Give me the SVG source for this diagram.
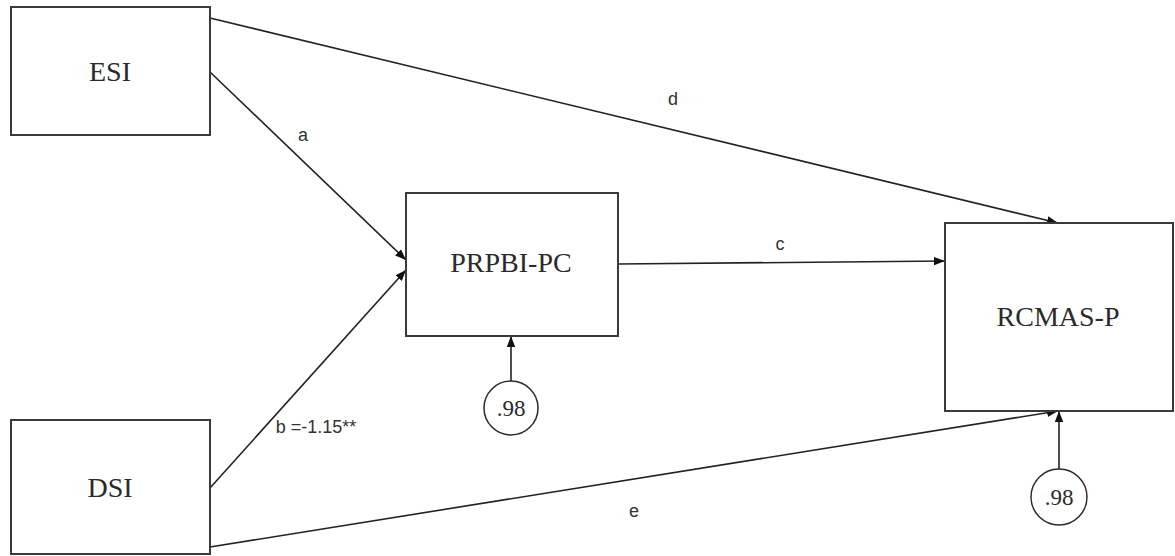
<svg xmlns="http://www.w3.org/2000/svg" width="1175" height="556" viewBox="0 0 1175 556">
  <style>
    .box { fill: #ffffff; stroke: #3a3a3a; stroke-width: 2; }
    .err { fill: #ffffff; stroke: #2a2a2a; stroke-width: 1.5; }
    .name { font-family: "Liberation Serif", "Times New Roman", serif; font-size: 28px; fill: #2a2a2a; text-anchor: middle; }
    .val { font-family: "Liberation Serif", "Times New Roman", serif; font-size: 23px; fill: #2a2a2a; text-anchor: middle; }
    .lbl { font-family: "Liberation Sans", Arial, sans-serif; font-size: 18px; fill: #333333; text-anchor: middle; }
    .path { fill: none; stroke: #222222; stroke-width: 1.6; }
  </style>
  <defs>
    <marker id="head" markerUnits="userSpaceOnUse" markerWidth="12" markerHeight="10" refX="11" refY="5" orient="auto">
      <path d="M0,0.8 L11,5 L0,9.2 Z" fill="#111111"/>
    </marker>
  </defs>
  <rect width="1175" height="556" fill="#ffffff"/>

  <!-- paths between variables -->
  <g id="connectors">
    <line class="path" x1="210" y1="72" x2="406" y2="260" marker-end="url(#head)"/>
    <line class="path" x1="210" y1="488" x2="406" y2="270" marker-end="url(#head)"/>
    <line class="path" x1="618" y1="264" x2="945" y2="261" marker-end="url(#head)"/>
    <line class="path" x1="210" y1="18" x2="1058" y2="223" marker-end="url(#head)"/>
    <line class="path" x1="210" y1="547" x2="1058" y2="411" marker-end="url(#head)"/>
    <line class="path" x1="511" y1="381" x2="511" y2="336" marker-end="url(#head)"/>
    <line class="path" x1="1059" y1="469" x2="1059" y2="411" marker-end="url(#head)"/>
    <text class="lbl" x="303" y="141">a</text>
    <text class="lbl" x="316" y="433">b =-1.15**</text>
    <text class="lbl" x="780" y="250">c</text>
    <text class="lbl" x="673" y="105">d</text>
    <text class="lbl" x="634" y="517">e</text>
  </g>

  <g id="esi">
    <rect class="box" x="11" y="7" width="199" height="128"/>
    <text class="name" x="110" y="81">ESI</text>
  </g>

  <g id="dsi">
    <rect class="box" x="11" y="420" width="199" height="134"/>
    <text class="name" x="110" y="497">DSI</text>
  </g>

  <g id="prpbi-pc">
    <rect class="box" x="406" y="193" width="212" height="143"/>
    <text class="name" x="511" y="272">PRPBI-PC</text>
  </g>

  <g id="rcmas-p">
    <rect class="box" x="945" y="223" width="228" height="188"/>
    <text class="name" x="1058" y="326">RCMAS-P</text>
  </g>

  <g id="error-prpbi">
    <circle class="err" cx="511" cy="408" r="27"/>
    <text class="val" x="511" y="416">.98</text>
  </g>

  <g id="error-rcmas">
    <circle class="err" cx="1059" cy="497" r="28"/>
    <text class="val" x="1059" y="505">.98</text>
  </g>
</svg>
